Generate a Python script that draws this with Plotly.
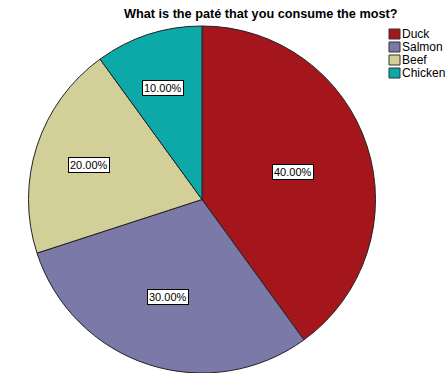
import math
import plotly.graph_objects as go

# Survey answers: preferred paté, share of respondents
categories = ["Duck", "Salmon", "Beef", "Chicken"]
shares = [40.0, 30.0, 20.0, 10.0]
colors = ["#A5161C", "#7B79A8", "#D3CF98", "#0DA8A8"]
title_text = "What is the paté that you consume the most?"

W, H = 446, 373
cx, cy = 202, 199.5          # pie centre in pixels
radius = 173.5               # pie radius in pixels
label_rx, label_ry = 185, 174  # spread used for the percentage boxes
FONT = "Liberation Sans, Arial"

fig = go.Figure(
    go.Pie(
        labels=categories,
        values=shares,
        sort=False,
        direction="clockwise",
        rotation=0,
        textinfo="none",
        hoverinfo="label+percent",
        showlegend=False,
        marker=dict(colors=colors, line=dict(color="#222222", width=1)),
        domain=dict(
            x=[(cx - radius) / W, (cx + radius) / W],
            y=[max(0, 1 - (cy + radius) / H), 1 - (cy - radius) / H],
        ),
    )
)

# Boxed percentage labels placed near each slice's centroid
total = sum(shares)
start = 0.0
annotations = []
for cat, val in zip(categories, shares):
    span = val / total * 2 * math.pi
    mid = start + span / 2
    half = span / 2
    k = (2 / 3) * math.sin(half) / half * 1.03
    px = cx + k * label_rx * math.sin(mid)
    py = cy - k * label_ry * math.cos(mid)
    annotations.append(
        dict(
            x=px / W, y=1 - py / H, xref="paper", yref="paper",
            xanchor="center", yanchor="middle",
            text=f"{val / total * 100:.2f}%", showarrow=False,
            font=dict(family=FONT, size=11, color="#000000"),
            bgcolor="#FFFFFF", bordercolor="#000000", borderwidth=1, borderpad=1,
        )
    )
    start += span

annotations.append(
    dict(
        x=261 / W, y=1 - 14 / H, xref="paper", yref="paper",
        xanchor="center", yanchor="middle",
        text=f"<b>{title_text}</b>", showarrow=False,
        font=dict(family=FONT, size=12.7, color="#000000"),
    )
)

# Compact legend: colour swatch plus category name per row
shapes = []
leg_x, leg_y, sw, row = 389, 29, 11, 13
for i, (cat, col) in enumerate(zip(categories, colors)):
    top = leg_y + i * row
    shapes.append(
        dict(
            type="rect", xref="paper", yref="paper",
            x0=leg_x / W, x1=(leg_x + sw) / W,
            y0=1 - (top + sw - 1) / H, y1=1 - top / H,
            fillcolor=col, line=dict(color="#333333", width=1),
        )
    )
    annotations.append(
        dict(
            x=(leg_x + sw) / W, y=1 - (top + (sw - 1) / 2) / H,
            xref="paper", yref="paper", xanchor="left", yanchor="middle",
            text=cat, showarrow=False,
            font=dict(family=FONT, size=12, color="#000000"),
        )
    )

fig.update_layout(
    width=W, height=H,
    margin=dict(l=0, r=0, t=0, b=0),
    paper_bgcolor="#FFFFFF",
    annotations=annotations,
    shapes=shapes,
)

fig.write_html("out.html")
